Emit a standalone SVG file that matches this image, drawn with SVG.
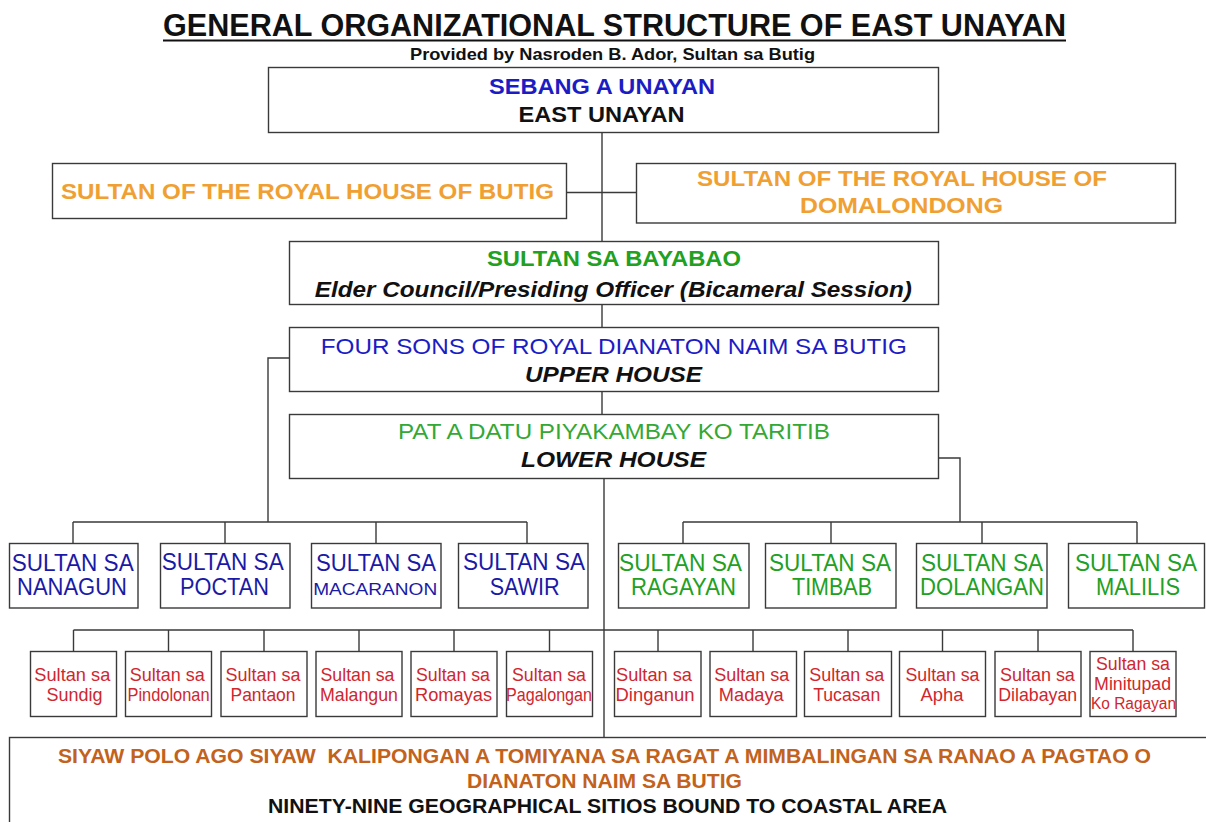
<svg xmlns="http://www.w3.org/2000/svg" width="1206" height="822" viewBox="0 0 1206 822">
  <style>
    text { font-family: "Liberation Sans", Arial, sans-serif; text-anchor: middle; }
    .box { fill: #ffffff; stroke: #3a3a3a; stroke-width: 1.4; }
    .wire { fill: none; stroke: #3a3a3a; stroke-width: 1.4; }
    .b { font-weight: bold; }
    .bi { font-weight: bold; font-style: italic; }
    .blk { fill: #111111; }
    .blue { fill: #1c1cc4; }
    .navy { fill: #1a1aa6; }
    .orange { fill: #f0a032; }
    .green { fill: #22a022; }
    .lgreen { fill: #34a834; }
    .red { fill: #d0262e; }
    .brown { fill: #c2621c; }
    .t22 { font-size: 22px; }
    .t23 { font-size: 23px; }
    .t19 { font-size: 19px; }
  </style>
  <rect width="1206" height="822" fill="#ffffff"/>

  <!-- heading -->
  <g id="heading">
    <text x="614.5" y="36" class="b blk" font-size="31" textLength="903" lengthAdjust="spacingAndGlyphs">GENERAL ORGANIZATIONAL STRUCTURE OF EAST UNAYAN</text>
    <line x1="163" y1="40.5" x2="1066" y2="40.5" stroke="#111" stroke-width="2"/>
    <text x="612.5" y="60" class="b blk" font-size="16.5" textLength="405" lengthAdjust="spacingAndGlyphs">Provided by Nasroden B. Ador, Sultan sa Butig</text>
  </g>

  <!-- connectors -->
  <g id="connectors" class="wire">
    <path d="M602 132 V241 M566 192.5 H636 M602 304 V327 M602 391 V414"/>
    <path d="M289 358 H268 V522 M73 522 H527 M73 522 V543 M225 522 V543 M376 522 V543 M527 522 V543"/>
    <path d="M938 458 H960 V522 M683 522 H1137 M683 522 V543 M831 522 V543 M982 522 V543 M1137 522 V543"/>
    <path d="M604 478 V737 M73.5 630 H1133 M73.5 630 V652 M168.5 630 V652 M264 630 V652 M359 630 V652 M454 630 V652 M549.5 630 V652 M658 630 V652 M753 630 V652 M848 630 V652 M942.5 630 V652 M1038 630 V652 M1133 630 V652"/>
  </g>

  <!-- top level -->
  <g id="east-unayan">
    <rect class="box" x="268.5" y="67.5" width="670" height="65"/>
    <text x="602" y="94" class="b blue t22" textLength="226" lengthAdjust="spacingAndGlyphs">SEBANG A UNAYAN</text>
    <text x="601.5" y="122" class="b blk t22" textLength="166" lengthAdjust="spacingAndGlyphs">EAST UNAYAN</text>
  </g>
  <g id="house-butig">
    <rect class="box" x="52.5" y="163.5" width="514" height="55"/>
    <text x="307.5" y="199" class="b orange t22" textLength="493" lengthAdjust="spacingAndGlyphs">SULTAN OF THE ROYAL HOUSE OF BUTIG</text>
  </g>
  <g id="house-domalondong">
    <rect class="box" x="636.5" y="163.5" width="539" height="59.5"/>
    <text x="902" y="186" class="b orange t22" textLength="410" lengthAdjust="spacingAndGlyphs">SULTAN OF THE ROYAL HOUSE OF</text>
    <text x="901.5" y="213" class="b orange t22" textLength="203" lengthAdjust="spacingAndGlyphs">DOMALONDONG</text>
  </g>
  <g id="bayabao">
    <rect class="box" x="289.5" y="241.5" width="649" height="63"/>
    <text x="614" y="266" class="b green t22" textLength="254" lengthAdjust="spacingAndGlyphs">SULTAN SA BAYABAO</text>
    <text x="613.3" y="297" class="bi blk t22" textLength="597" lengthAdjust="spacingAndGlyphs">Elder Council/Presiding Officer (Bicameral Session)</text>
  </g>
  <g id="upper-house">
    <rect class="box" x="289.5" y="327.5" width="649" height="64"/>
    <text x="613.8" y="354" class="blue t22" textLength="586" lengthAdjust="spacingAndGlyphs">FOUR SONS OF ROYAL DIANATON NAIM SA BUTIG</text>
    <text x="613.5" y="382" class="bi blk t22" textLength="177" lengthAdjust="spacingAndGlyphs">UPPER HOUSE</text>
  </g>
  <g id="lower-house">
    <rect class="box" x="289.5" y="414.5" width="649" height="64"/>
    <text x="614" y="439" class="lgreen t22" textLength="432" lengthAdjust="spacingAndGlyphs">PAT A DATU PIYAKAMBAY KO TARITIB</text>
    <text x="613.5" y="467" class="bi blk t22" textLength="185" lengthAdjust="spacingAndGlyphs">LOWER HOUSE</text>
  </g>

  <!-- upper house sultanates -->
  <g id="nanagun">
    <rect class="box" x="9.5" y="543.5" width="128.5" height="64.5"/>
    <text x="72.7" y="571" class="navy t23" textLength="122" lengthAdjust="spacingAndGlyphs">SULTAN SA</text>
    <text x="72" y="595" class="navy t23" textLength="110" lengthAdjust="spacingAndGlyphs">NANAGUN</text>
  </g>
  <g id="poctan">
    <rect class="box" x="160.5" y="543.5" width="129.5" height="64.5"/>
    <text x="222.7" y="570" class="navy t23" textLength="122" lengthAdjust="spacingAndGlyphs">SULTAN SA</text>
    <text x="224.5" y="595" class="navy t23" textLength="89" lengthAdjust="spacingAndGlyphs">POCTAN</text>
  </g>
  <g id="macaranon">
    <rect class="box" x="311.5" y="543.5" width="129.5" height="64.5"/>
    <text x="376" y="571" class="navy t23" textLength="120" lengthAdjust="spacingAndGlyphs">SULTAN SA</text>
    <text x="375.2" y="595" class="navy" font-size="17" textLength="124" lengthAdjust="spacingAndGlyphs">MACARANON</text>
  </g>
  <g id="sawir">
    <rect class="box" x="458.5" y="543.5" width="129.5" height="64.5"/>
    <text x="524" y="570" class="navy t23" textLength="122" lengthAdjust="spacingAndGlyphs">SULTAN SA</text>
    <text x="524.7" y="595" class="navy t23" textLength="70" lengthAdjust="spacingAndGlyphs">SAWIR</text>
  </g>

  <!-- lower house sultanates -->
  <g id="ragayan">
    <rect class="box" x="618.5" y="543.5" width="130.5" height="64.5"/>
    <text x="680.5" y="571" class="green t23" textLength="123" lengthAdjust="spacingAndGlyphs">SULTAN SA</text>
    <text x="683.5" y="595" class="green t23" textLength="105" lengthAdjust="spacingAndGlyphs">RAGAYAN</text>
  </g>
  <g id="timbab">
    <rect class="box" x="765.5" y="543.5" width="130.5" height="64.5"/>
    <text x="830" y="571" class="green t23" textLength="122" lengthAdjust="spacingAndGlyphs">SULTAN SA</text>
    <text x="832" y="595" class="green t23" textLength="80" lengthAdjust="spacingAndGlyphs">TIMBAB</text>
  </g>
  <g id="dolangan">
    <rect class="box" x="916.5" y="543.5" width="130.5" height="64.5"/>
    <text x="982" y="571" class="green t23" textLength="122" lengthAdjust="spacingAndGlyphs">SULTAN SA</text>
    <text x="982" y="595" class="green t23" textLength="124" lengthAdjust="spacingAndGlyphs">DOLANGAN</text>
  </g>
  <g id="malilis">
    <rect class="box" x="1068.5" y="543.5" width="136" height="64.5"/>
    <text x="1136" y="571" class="green t23" textLength="122" lengthAdjust="spacingAndGlyphs">SULTAN SA</text>
    <text x="1138" y="595" class="green t23" textLength="84" lengthAdjust="spacingAndGlyphs">MALILIS</text>
  </g>

  <!-- local sultanates -->
  <g id="sundig">
    <rect class="box" x="30.5" y="651.5" width="86" height="65"/>
    <text x="72.3" y="681" class="red t19" textLength="76" lengthAdjust="spacingAndGlyphs">Sultan sa</text>
    <text x="74.6" y="701" class="red t19" textLength="56" lengthAdjust="spacingAndGlyphs">Sundig</text>
  </g>
  <g id="pindolonan">
    <rect class="box" x="125.5" y="651.5" width="86" height="65"/>
    <text x="167.3" y="681" class="red t19" textLength="75" lengthAdjust="spacingAndGlyphs">Sultan sa</text>
    <text x="168.5" y="701" class="red t19" textLength="82" lengthAdjust="spacingAndGlyphs">Pindolonan</text>
  </g>
  <g id="pantaon">
    <rect class="box" x="221" y="651.5" width="86" height="65"/>
    <text x="263" y="681" class="red t19" textLength="75" lengthAdjust="spacingAndGlyphs">Sultan sa</text>
    <text x="263" y="701" class="red t19" textLength="65" lengthAdjust="spacingAndGlyphs">Pantaon</text>
  </g>
  <g id="malangun">
    <rect class="box" x="316" y="651.5" width="86" height="65"/>
    <text x="357.5" y="681" class="red t19" textLength="74" lengthAdjust="spacingAndGlyphs">Sultan sa</text>
    <text x="359" y="701" class="red t19" textLength="78" lengthAdjust="spacingAndGlyphs">Malangun</text>
  </g>
  <g id="romayas">
    <rect class="box" x="411" y="651.5" width="86" height="65"/>
    <text x="453" y="681" class="red t19" textLength="74" lengthAdjust="spacingAndGlyphs">Sultan sa</text>
    <text x="453.5" y="701" class="red t19" textLength="77" lengthAdjust="spacingAndGlyphs">Romayas</text>
  </g>
  <g id="pagalongan">
    <rect class="box" x="506.5" y="651.5" width="86" height="65"/>
    <text x="549" y="681" class="red t19" textLength="74" lengthAdjust="spacingAndGlyphs">Sultan sa</text>
    <text x="549" y="701" class="red t19" textLength="86" lengthAdjust="spacingAndGlyphs">Pagalongan</text>
  </g>
  <g id="dinganun">
    <rect class="box" x="614.5" y="651.5" width="86.5" height="65"/>
    <text x="654" y="681" class="red t19" textLength="76" lengthAdjust="spacingAndGlyphs">Sultan sa</text>
    <text x="655" y="701" class="red t19" textLength="79" lengthAdjust="spacingAndGlyphs">Dinganun</text>
  </g>
  <g id="madaya">
    <rect class="box" x="710" y="651.5" width="86.5" height="65"/>
    <text x="751.7" y="681" class="red t19" textLength="75" lengthAdjust="spacingAndGlyphs">Sultan sa</text>
    <text x="751.3" y="701" class="red t19" textLength="65" lengthAdjust="spacingAndGlyphs">Madaya</text>
  </g>
  <g id="tucasan">
    <rect class="box" x="804.5" y="651.5" width="87" height="65"/>
    <text x="846.8" y="681" class="red t19" textLength="75" lengthAdjust="spacingAndGlyphs">Sultan sa</text>
    <text x="846.7" y="701" class="red t19" textLength="67" lengthAdjust="spacingAndGlyphs">Tucasan</text>
  </g>
  <g id="apha">
    <rect class="box" x="899.5" y="651.5" width="86" height="65"/>
    <text x="942.5" y="681" class="red t19" textLength="74" lengthAdjust="spacingAndGlyphs">Sultan sa</text>
    <text x="942" y="701" class="red t19" textLength="43" lengthAdjust="spacingAndGlyphs">Apha</text>
  </g>
  <g id="dilabayan">
    <rect class="box" x="995" y="651.5" width="86" height="65"/>
    <text x="1037.4" y="681" class="red t19" textLength="75" lengthAdjust="spacingAndGlyphs">Sultan sa</text>
    <text x="1037.7" y="701" class="red t19" textLength="79" lengthAdjust="spacingAndGlyphs">Dilabayan</text>
  </g>
  <g id="minitupad">
    <rect class="box" x="1090" y="651.5" width="86" height="65"/>
    <text x="1133" y="670" class="red t19" textLength="74" lengthAdjust="spacingAndGlyphs">Sultan sa</text>
    <text x="1132.6" y="690" class="red t19" textLength="77" lengthAdjust="spacingAndGlyphs">Minitupad</text>
    <text x="1133.5" y="709" class="red" font-size="16" textLength="85" lengthAdjust="spacingAndGlyphs">Ko Ragayan</text>
  </g>

  <!-- coastal sitios -->
  <g id="coastal-sitios">
    <rect class="box" x="9.5" y="737.5" width="1220" height="110"/>
    <text x="604.5" y="763" class="b brown" font-size="21" textLength="1093" lengthAdjust="spacingAndGlyphs" xml:space="preserve">SIYAW POLO AGO SIYAW  KALIPONGAN A TOMIYANA SA RAGAT A MIMBALINGAN SA RANAO A PAGTAO O</text>
    <text x="604.5" y="788" class="b brown" font-size="21" textLength="275" lengthAdjust="spacingAndGlyphs">DIANATON NAIM SA BUTIG</text>
    <text x="607.5" y="813" class="b blk" font-size="21" textLength="679" lengthAdjust="spacingAndGlyphs">NINETY-NINE GEOGRAPHICAL SITIOS BOUND TO COASTAL AREA</text>
  </g>
</svg>
